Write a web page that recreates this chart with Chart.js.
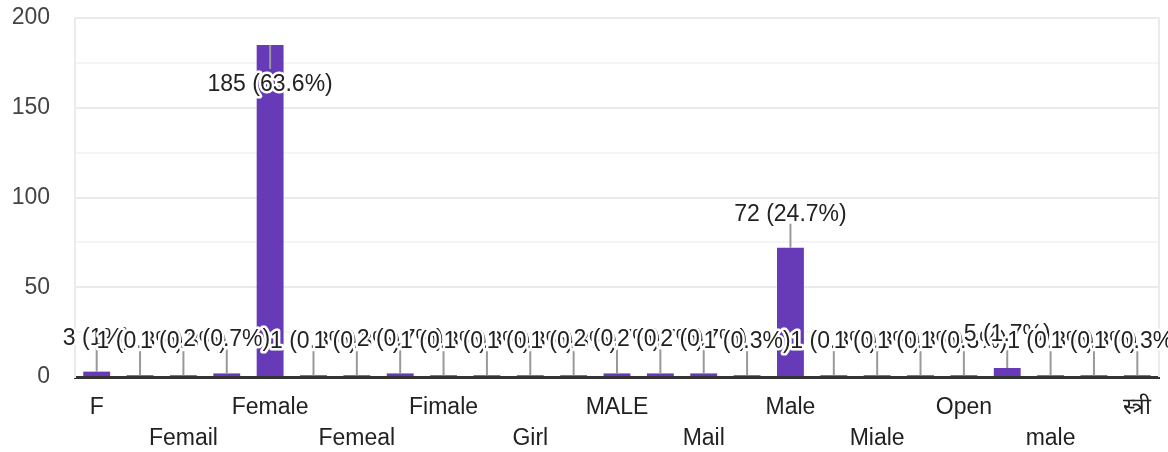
<!DOCTYPE html>
<html>
<head>
<meta charset="utf-8">
<script src="https://cdn.jsdelivr.net/npm/chart.js@4.4.1/dist/chart.umd.min.js"></script>
<style>
  html, body { margin: 0; padding: 0; background: #fff; }
  #wrap { width: 1168px; height: 452px; }
</style>
</head>
<body>
<div id="wrap"><canvas id="genderChart"></canvas></div>
<script>
// categories (only every other one is labelled in the picture)
const categories = ['F', '', 'Femail', '', 'Female', '', 'Femeal', '', 'Fimale', '', 'Girl', '',
    'MALE', '', 'Mail', '', 'Male', '', 'Miale', '', 'Open', '', 'male', '', 'स्त्री'];
// responses per category
const counts = [3, 1, 1, 2, 185, 1, 1, 2, 1, 1, 1, 1, 2, 2, 2, 1, 72, 1, 1, 1, 1, 5, 1, 1, 1];
// y axis ticks
const yTicks = [0, 50, 100, 150, 200];

const total = counts.reduce((a, b) => a + b, 0);
const FONT = '"Liberation Sans", Arial, sans-serif';

function pctText(v) {
    let p = Math.round(v / total * 1000) / 10;
    return v + ' (' + (p % 1 === 0 ? p.toFixed(0) : p.toFixed(1)) + '%)';
}

// 柱顶的标注 (stem + value label with white halo)
const barLabels = {
    id: 'barLabels',
    afterDatasetsDraw(chart) {
        const ctx = chart.ctx;
        const area = chart.chartArea;
        const bars = chart.getDatasetMeta(0).data;
        const spots = bars.map((b, i) => {
            const below = b.y - 50 < area.top;
            return { x: b.x, top: b.y, below, text: pctText(counts[i]) };
        });
        ctx.save();
        ctx.strokeStyle = '#999';
        ctx.lineWidth = 2;
        spots.forEach(s => {
            ctx.beginPath();
            ctx.moveTo(s.x, s.top);
            ctx.lineTo(s.x, s.below ? s.top + 24 : s.top - 24);
            ctx.stroke();
        });
        ctx.font = '23px ' + FONT;
        ctx.textAlign = 'center';
        ctx.textBaseline = 'alphabetic';
        ctx.lineJoin = 'round';
        spots.forEach(s => {
            const y = s.below ? s.top + 46 : s.top - 27;
            ctx.strokeStyle = '#fff';
            ctx.lineWidth = 5;
            ctx.strokeText(s.text, s.x, y);
            ctx.fillStyle = '#222';
            ctx.fillText(s.text, s.x, y);
        });
        ctx.restore();
    }
};

// right edge of the plot frame
const frame = {
    id: 'frame',
    beforeDatasetsDraw(chart) {
        const { ctx, chartArea } = chart;
        ctx.save();
        ctx.strokeStyle = '#ebebeb';
        ctx.lineWidth = 2;
        ctx.beginPath();
        ctx.moveTo(chartArea.right, chartArea.top);
        ctx.lineTo(chartArea.right, chartArea.bottom);
        ctx.stroke();
        ctx.restore();
    }
};

new Chart(document.getElementById('genderChart'), {
    type: 'bar',
    data: {
        labels: categories,
        datasets: [{
            data: counts,
            backgroundColor: '#673ab7',
            barPercentage: 0.62,
            categoryPercentage: 1
        }]
    },
    options: {
        responsive: true,
        maintainAspectRatio: false,
        animation: false,
        layout: { padding: { top: 18, right: 9, left: 0, bottom: 0 } },
        plugins: { legend: { display: false }, tooltip: { enabled: false } },
        scales: {
            x: {
                z: 1,
                grid: { display: false },
                border: { color: '#333', width: 3 },
                ticks: {
                    autoSkip: false,
                    maxRotation: 0,
                    minRotation: 0,
                    padding: 7,
                    color: '#222',
                    font: { family: FONT, size: 23, lineHeight: 1.35 },
                    callback: (v, i) => {
                        const lab = categories[i];
                        if (!lab) return '';
                        return (i / 2) % 2 === 1 ? ['', lab] : lab;
                    }
                },
                afterFit: s => { s.height = 75; }
            },
            y: {
                min: yTicks[0],
                max: yTicks[yTicks.length - 1],
                grid: {
                    drawTicks: true,
                    tickLength: 25,
                    tickColor: 'rgba(0,0,0,0)',
                    lineWidth: 2,
                    color: c => (yTicks.includes(c.tick.value) ? '#ebebeb' : '#f5f5f5')
                },
                border: { color: '#ebebeb', width: 2 },
                ticks: {
                    stepSize: 25,
                    padding: 0,
                    color: '#444',
                    font: { family: FONT, size: 23 },
                    callback: v => (yTicks.includes(v) ? v : '')
                },
                afterFit: s => { s.width = 75; }
            }
        }
    },
    plugins: [frame, barLabels]
});
</script>
</body>
</html>
